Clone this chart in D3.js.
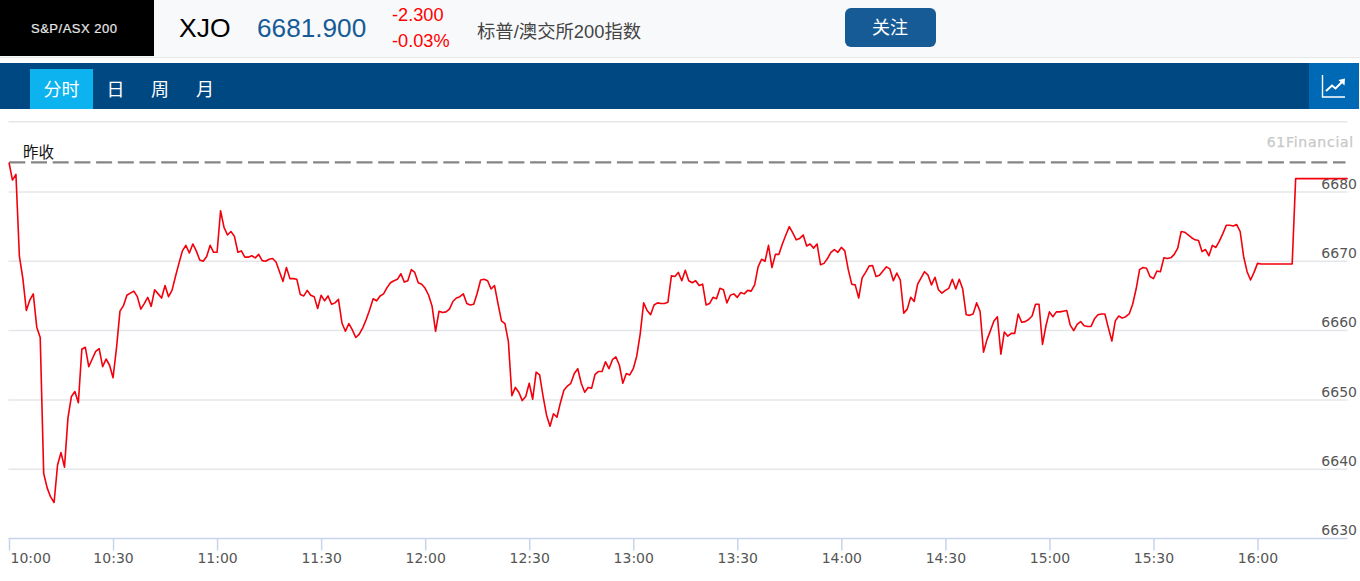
<!DOCTYPE html>
<html><head><meta charset="utf-8">
<script src="https://cdn.jsdelivr.net/npm/d3@7/dist/d3.min.js"></script>
<style>html,body{margin:0;padding:0;background:#fff;overflow:hidden}svg{display:block}</style>
</head><body><svg id="c" width="1360" height="581"></svg>
<script>
const startMinute = 600; // 10:00
const prices = [
6684.2,6681.7,6682.5,6670.7,6667.5,6662.9,6664.4,6665.3,6660.5,6659.0,
6639.4,6637.3,6636.0,6635.2,6640.6,6642.4,6640.3,6647.4,6650.5,6651.2,
6649.6,6657.3,6657.6,6654.8,6655.9,6657.0,6657.4,6654.8,6655.9,6655.0,
6653.2,6657.5,6662.8,6663.6,6665.1,6665.4,6665.7,6664.9,6663.1,6663.9,
6664.8,6663.5,6665.9,6665.3,6664.7,6666.5,6664.9,6665.8,6667.8,6669.7,
6671.5,6672.3,6671.2,6672.5,6671.5,6670.2,6670.0,6670.7,6672.3,6671.3,
6671.3,6677.3,6674.9,6673.8,6674.3,6673.6,6671.3,6671.5,6670.6,6670.6,
6670.8,6670.5,6671.0,6670.1,6670.0,6670.3,6670.4,6669.9,6668.5,6667.1,
6669.1,6667.5,6667.5,6667.4,6665.2,6665.0,6665.8,6665.1,6664.9,6663.2,
6665.1,6664.3,6665.0,6663.8,6664.0,6664.5,6661.1,6659.9,6661.0,6660.1,
6659.0,6659.5,6660.4,6661.6,6663.0,6664.6,6664.3,6665.0,6665.3,6666.2,
6666.9,6667.2,6667.4,6668.2,6667.0,6667.2,6668.8,6668.4,6666.9,6666.7,
6666.1,6665.1,6663.5,6659.9,6662.8,6662.6,6662.7,6663.1,6664.2,6664.7,
6664.9,6665.3,6663.9,6663.7,6663.8,6665.4,6667.3,6667.4,6667.2,6666.0,
6666.5,6663.9,6661.4,6661.0,6658.4,6650.6,6651.8,6651.1,6649.9,6650.5,
6652.4,6650.1,6654.0,6653.6,6650.5,6647.8,6646.2,6648.0,6647.5,6649.6,
6651.4,6652.0,6652.4,6653.8,6654.5,6652.4,6651.1,6651.8,6651.7,6653.7,
6654.1,6654.1,6655.5,6654.5,6655.8,6656.2,6655.0,6652.4,6653.8,6653.6,
6654.5,6656.3,6659.5,6664.0,6662.9,6662.3,6663.7,6664.0,6663.9,6663.9,
6664.1,6667.9,6667.8,6668.4,6667.2,6668.7,6667.2,6666.9,6667.2,6666.5,
6666.7,6663.7,6663.9,6664.8,6664.6,6666.1,6665.9,6664.0,6665.1,6665.3,
6664.8,6665.5,6665.3,6665.8,6665.7,6666.6,6669.2,6670.3,6670.0,6672.3,
6669.1,6671.0,6671.0,6672.5,6673.8,6675.0,6674.1,6673.1,6673.3,6673.8,
6672.2,6672.5,6671.9,6672.5,6669.5,6669.7,6670.4,6671.3,6671.7,6671.3,
6672.0,6671.5,6668.8,6666.7,6666.6,6664.7,6667.6,6668.4,6669.3,6669.4,
6667.8,6668.0,6668.6,6669.2,6668.9,6667.2,6668.3,6667.3,6662.5,6663.1,
6664.8,6664.2,6666.7,6667.6,6668.5,6668.0,6666.6,6667.7,6665.9,6665.4,
6665.8,6666.1,6667.4,6666.0,6667.4,6666.0,6662.3,6662.2,6662.4,6664.0,
6662.8,6656.9,6658.7,6660.0,6661.4,6662.0,6656.6,6659.8,6659.2,6659.6,
6659.6,6662.4,6661.2,6661.3,6661.6,6662.1,6663.8,6663.8,6658.0,6660.7,
6662.7,6662.0,6662.7,6662.7,6662.8,6662.9,6660.8,6660.0,6660.9,6661.3,
6660.7,6660.6,6660.6,6661.7,6662.3,6662.4,6662.4,6660.4,6658.5,6661.4,
6662.1,6661.8,6662.0,6662.4,6663.8,6666.0,6668.8,6669.1,6669.0,6667.8,
6667.5,6668.6,6668.5,6670.5,6670.4,6670.5,6671.0,6671.9,6674.3,6674.2,
6673.8,6673.4,6673.1,6673.0,6671.4,6671.7,6670.8,6672.3,6672.0,6672.9,
6674.0,6675.2,6675.2,6675.1,6675.3,6674.3,6670.7,6668.5,6667.3,6668.4,
6669.7,6669.6,6669.6,6669.6,6669.6,6669.6,6669.6,6669.6,6669.6,6669.6,
6669.6,6681.9,6681.9,6681.9,6681.9,6681.9,6681.9,6681.9,6681.9,6681.9,
6681.9,6681.9,6681.9,6681.9,6681.9,6681.9,6681.9];
const prevClose = 6684.2;
const yTicks = [6690,6680,6670,6660,6650,6640,6630];
const yLabels = [6680,6670,6660,6650,6640,6630];
const xTicks = [600,630,660,690,720,750,780,810,840,870,900,930,960];
const tabs = ["分时","日","周","月"];

const svg = d3.select("#c");
const sans = "'Liberation Sans',Arial,sans-serif", cjk = "'Liberation Sans','Noto Sans CJK SC',sans-serif", dj = "'DejaVu Sans',sans-serif";
const text = (x,y,s,size,fill,font,anchor="start",extra={}) => {
  const t = svg.append("text").attr("x",x).attr("y",y).attr("font-size",size).attr("fill",fill).attr("font-family",font).attr("text-anchor",anchor).text(s);
  Object.entries(extra).forEach(([k,v])=>t.attr(k,v)); return t; };
const rect = (x,y,w,h,f,r=0)=>svg.append("rect").attr("x",x).attr("y",y).attr("width",w).attr("height",h).attr("fill",f).attr("rx",r);

// Header
rect(0,0,1360,57,"#f8f9fb");
rect(0,57,1360,1,"#e6e7ea");
rect(0,0,154,56,"#000");
text(74,33,"S&P/ASX 200",13,"#e8e8e8",sans,"middle",{"stroke":"#e8e8e8","stroke-width":"0.2"}).attr("textLength",86);
text(179,37,"XJO",26.5,"#000",sans);
text(257,37,"6681.900",26.2,"#175b96",sans);
text(392,21,"-2.300",18.2,"#f00",sans);
text(392,47,"-0.03%",18.2,"#f00",sans);
text(477,38,"标普/澳交所200指数",18.35,"#444",cjk);
rect(845,8,91,39,"#175b96",6);
text(890,34,"关注",18,"#fff",cjk,"middle");

// Nav
rect(0,63,1360,46,"#004882");
rect(30,69,63,40,"#0db3ef");
const tabX = [61.5,115.5,160,205];
tabs.forEach((t,i)=>text(tabX[i],96,t,18,"#fff",cjk,"middle"));
rect(1309,63,50,46,"#0069b5");
rect(1359,63,1,46,"#fff");
const ic = svg.append("g").attr("fill","none").attr("stroke","#fff");
ic.append("path").attr("d","M1322.5 75V97H1345").attr("stroke-width",1.4);
ic.append("path").attr("d","M1326 91L1332 85.5L1335.5 88.5L1343 81").attr("stroke-width",2);
svg.append("path").attr("d","M1345 78.5L1344.5 85.5L1338.5 80Z").attr("fill","#fff");

// Chart scales
const x = d3.scaleLinear().domain([600,960]).range([9,1257.5]);
const y = d3.scaleLinear().domain([6630,6680,6690]).range([538.5,192,121.7]);
const xEnd = 1347.5;

svg.append("g").selectAll("line").data(yTicks.filter(d=>d!==6630)).join("line")
  .attr("x1",8.5).attr("x2",xEnd).attr("y1",d=>y(d)).attr("y2",d=>y(d))
  .attr("stroke","#e4e6e9").attr("stroke-width",1.5);

// X axis
const axG = svg.append("g").attr("transform",`translate(0,${y(6630)})`);
const ax = d3.axisBottom(x).tickValues(xTicks).tickSize(12).tickSizeOuter(0)
  .tickFormat(d=>`${Math.floor(d/60)}:${String(d%60).padStart(2,"0")}`);
axG.call(ax);
axG.select(".domain").remove();
axG.append("line").attr("x1",8.5).attr("x2",xEnd).attr("stroke","#c6d4ec").attr("stroke-width",1.5);
axG.selectAll(".tick line").attr("stroke","#c6d4ec").attr("stroke-width",1.5);
axG.selectAll(".tick text").attr("font-family",dj).attr("font-size",14).attr("fill","#555").attr("y",11.5).attr("dy","0.9em")
  .filter(d=>d===600).attr("text-anchor","start").attr("x",1);

// Y labels
svg.append("g").selectAll("text").data(yLabels).join("text")
  .attr("x",1357).attr("y",d=>y(d)-3.3).attr("text-anchor","end")
  .attr("font-family",dj).attr("font-size",14).attr("fill","#555").text(d=>d);

// Watermark
text(1354,147,"61Financial",14,"#c8c8c8",dj,"end",{"letter-spacing":"0.75","stroke":"#c8c8c8","stroke-width":"0.25"});

// Prev close
svg.append("line").attr("x1",9.3).attr("x2",xEnd-2).attr("y1",163).attr("y2",163).datum(prevClose)
  .attr("y1",d=>y(d)).attr("y2",d=>y(d))
  .attr("stroke","#858585").attr("stroke-width",2.2).attr("stroke-dasharray","16 5.7");
text(23,158,"昨收",15.5,"#111",cjk);

// Line
const line = d3.line().x((d,i)=>x(startMinute+i)).y(d=>y(d));
svg.append("path").datum(prices).attr("d",line).attr("fill","none").attr("stroke","#f2000c").attr("stroke-width",1.6).attr("stroke-linejoin","round");
</script></body></html>
